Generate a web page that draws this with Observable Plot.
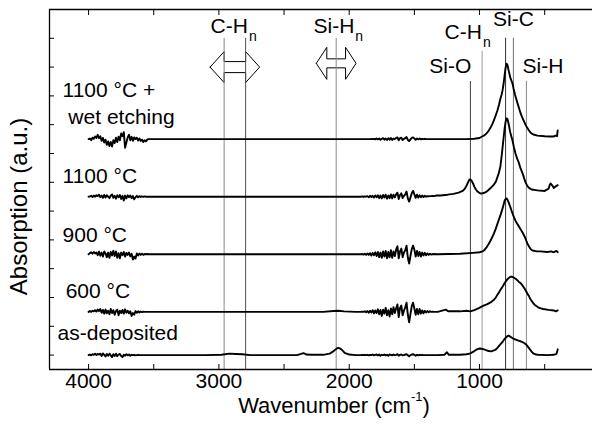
<!DOCTYPE html>
<html>
<head>
<meta charset="utf-8">
<script src="https://cdn.jsdelivr.net/npm/d3@7"></script>
<script src="https://cdn.jsdelivr.net/npm/@observablehq/plot@0.6"></script>
<style>
  html, body { margin: 0; padding: 0; background: #fff; }
  #chart { width: 592px; height: 426px; }
</style>
</head>
<body>
<div id="chart"></div>
<script>
// FTIR absorption spectra of SiC films after different treatments, stacked vertically.

// ---- series ----
const seriesNames = ["as-deposited", "600 °C", "900 °C", "1100 °C", "1100 °C +\n\u00A0wet etching"];
const seriesOffsets = [0, 1.5, 3.5, 5.5, 7.5];

// sampling of the two atmospheric water-vapour bands (cm-1)
const bandA = d3.range(3990, 3539, -10);   // 3990 … 3540
const bandB = d3.range(1910, 1329, -10);   // 1910 … 1330

// ---- as-deposited ----
const asDepKeys = [[4000,0.00],[3500,0.00],[3100,0.00],[2980,0.01],[2920,0.05],[2870,0.04],[2820,0.03],[2760,0.00],
  [2600,0.00],[2400,0.00],[2370,0.04],[2350,0.07],[2330,0.02],[2290,0.01],[2200,0.01],[2150,0.05],[2125,0.12],[2110,0.18],
  [2095,0.23],[2085,0.25],[2070,0.23],[2060,0.20],[2045,0.13],[2035,0.08],[2000,0.02],[1950,0.00],[1920,0.00],[1320,0.00],[1270,0.01],[1250,0.10],
  [1235,0.01],[1150,0.01],[1100,0.03],[1070,0.06],[1040,0.14],[1020,0.20],[1000,0.23],[985,0.22],[965,0.20],[930,0.14],[910,0.13],
  [880,0.18],[865,0.24],[850,0.32],[835,0.40],[820,0.48],[808,0.56],[795,0.62],[786,0.66],[778,0.68],[770,0.66],[760,0.63],[748,0.59],[735,0.56],[718,0.53],[700,0.50],[685,0.48],[670,0.45],[658,0.42],[645,0.38],
  [635,0.33],[625,0.27],[612,0.19],[600,0.12],[590,0.07],[580,0.04],[565,0.02],[550,0.01],[480,0.00],[430,0.01],[410,0.04],[403,0.14],[400,0.20]];
const asDepBandA = [0.02,-0.01,0.03,0.01,0.05,0.00,0.04,0.02,0.05,-0.03,
  0.06,0.01,-0.05,0.04,-0.02,0.05,-0.01,-0.07,0.03,-0.03,
  0.05,-0.04,0.02,0.04,-0.03,-0.07,0.01,-0.02,0.03,-0.01,
  0.02,-0.02,0.01,0.00,0.01,-0.01,0.00,0.01,0.00,0.00,
  0.00,0.00,0.00,0.00,0.00,0.00];
const asDepBandB = [0.00,0.01,0.00,0.01,0.00,0.01,-0.01,0.01,0.00,0.02,
  -0.01,0.01,0.02,-0.01,0.02,-0.02,0.01,0.00,0.02,-0.01,
  0.01,-0.02,0.02,0.01,-0.01,0.02,0.00,0.01,0.03,-0.02,
  0.01,0.02,-0.01,0.00,0.02,0.03,-0.01,-0.04,0.00,0.02,
  0.03,0.01,-0.02,0.01,-0.01,0.01,0.00,0.01,0.00,0.00,
  0.00,0.00,0.00,0.00,0.00,0.00,0.00,0.00,0.00];

// ---- 600 °C ----
const t600Keys = [[4000,0.00],[3500,0.00],[2200,0.00],[2120,0.03],[2080,0.04],[2040,0.02],[1950,0.00],[1920,0.00],
  [1320,0.00],[1260,0.08],[1240,0.02],[1150,0.02],[1100,0.04],[1070,0.02],[1040,0.06],[1005,0.13],[977,0.20],[940,0.27],
  [915,0.33],[890,0.42],[875,0.50],[862,0.60],[850,0.68],[840,0.76],[830,0.83],[820,0.90],[810,0.98],[800,1.05],[790,1.11],[780,1.16],[770,1.20],[762,1.22],[750,1.22],[740,1.20],[730,1.17],[720,1.14],
  [710,1.10],[700,1.05],[685,1.00],[672,0.93],[660,0.85],[645,0.74],[632,0.63],[620,0.54],[610,0.45],[598,0.37],[586,0.29],[570,0.22],[550,0.16],[530,0.12],[510,0.10],[470,0.07],[430,0.05],
  [415,0.02],[400,0.05]];
const t600BandA = [0.03,0.00,0.04,0.02,0.06,0.01,0.08,0.03,0.10,-0.03,
  0.07,-0.06,0.08,-0.05,0.04,-0.08,0.10,-0.04,0.06,-0.10,
  0.03,0.08,-0.12,0.04,-0.04,0.07,-0.06,0.09,-0.03,0.04,
  -0.05,0.02,-0.14,-0.04,-0.10,0.03,-0.03,0.02,-0.02,0.01,
  -0.01,0.01,0.00,0.00,0.00,0.00];
const t600BandB = [0.00,0.01,0.00,0.02,-0.01,0.03,-0.03,0.04,-0.02,0.06,
  -0.05,0.05,-0.04,0.09,-0.08,0.07,-0.14,0.08,-0.06,0.14,
  -0.12,0.06,-0.16,0.12,-0.08,0.16,-0.04,0.12,0.26,-0.18,
  0.14,0.22,-0.12,0.04,0.16,0.32,-0.10,-0.36,-0.08,0.20,
  0.32,0.12,-0.10,0.10,-0.08,0.10,-0.06,0.05,-0.05,0.04,
  -0.02,0.03,-0.01,0.02,0.00,0.01,0.00,0.00,0.00];

// ---- 900 °C ----
const t900Keys = [[4000,0.00],[3500,0.00],[1920,0.00],[1320,0.00],[1150,0.02],[1050,0.05],[1000,0.07],[977,0.10],[960,0.16],[945,0.25],
  [930,0.36],[915,0.48],[902,0.60],[890,0.72],[875,0.89],[862,1.07],[850,1.22],[840,1.35],[830,1.49],[823,1.60],[815,1.73],[808,1.85],[800,1.92],[793,1.94],[786,1.90],[778,1.82],[770,1.72],[762,1.62],[754,1.51],[745,1.40],
  [735,1.28],[724,1.17],[712,1.07],[700,0.98],[685,0.87],[670,0.76],[660,0.67],[650,0.58],[641,0.47],[632,0.37],[620,0.27],[610,0.20],[600,0.15],[593,0.13],[560,0.10],[532,0.10],[480,0.08],
  [450,0.10],[430,0.07],[410,0.12],[400,0.08]];
const t900BandA = [0.04,0.07,0.02,0.08,0.03,0.06,-0.03,0.09,-0.05,0.06,
  -0.08,0.10,0.03,-0.10,0.06,-0.12,0.08,-0.04,0.12,-0.06,
  0.10,-0.12,0.04,-0.14,0.06,-0.03,0.08,-0.08,0.05,-0.02,
  0.06,-0.07,0.02,-0.18,-0.08,-0.15,0.03,-0.04,0.03,-0.02,
  0.02,-0.02,0.01,0.00,0.01,0.00];
const t900BandB = [0.00,0.01,-0.01,0.02,-0.02,0.03,-0.02,0.04,-0.04,0.05,
  -0.03,0.07,-0.06,0.08,-0.10,0.06,-0.12,0.10,-0.08,0.12,
  -0.14,0.08,-0.10,0.14,-0.12,0.10,-0.06,0.16,0.28,-0.14,
  0.10,0.20,-0.10,0.06,0.14,0.30,-0.12,-0.32,-0.06,0.18,
  0.30,0.16,-0.08,0.12,-0.06,0.08,-0.08,0.06,-0.04,0.05,
  -0.03,0.03,-0.02,0.02,-0.01,0.01,0.00,0.01,0.00];

// ---- 1100 °C ----
const t1100Keys = [[4000,0.00],[3500,0.00],[1920,0.00],[1300,0.04],[1245,0.07],[1200,0.10],[1160,0.14],[1130,0.20],
  [1120,0.24],[1110,0.30],[1100,0.38],[1090,0.48],[1082,0.56],[1075,0.60],[1068,0.59],[1060,0.55],[1050,0.46],[1040,0.35],[1028,0.25],[1015,0.18],[1000,0.13],[990,0.11],[975,0.12],[955,0.15],
  [940,0.20],[915,0.30],[890,0.42],[875,0.52],[865,0.65],[852,0.82],[840,1.05],[828,1.50],[815,2.05],[807,2.38],[800,2.60],[793,2.72],[786,2.70],[780,2.60],[772,2.42],[765,2.25],
  [756,2.10],[747,1.95],[736,1.72],[724,1.50],[712,1.33],[700,1.20],[685,0.98],[675,0.87],[665,0.75],[656,0.62],[647,0.50],[636,0.40],[624,0.32],[612,0.28],[600,0.25],[555,0.22],[500,0.20],
  [470,0.28],[462,0.40],[455,0.46],[447,0.42],[440,0.38],[430,0.30],[415,0.36],[400,0.40]];
const t1100BandA = [0.01,0.03,-0.01,0.04,0.00,0.05,0.02,0.07,-0.02,0.04,
  -0.04,0.06,-0.03,0.05,0.00,-0.05,0.04,0.08,-0.04,0.03,
  -0.07,0.05,-0.02,0.06,-0.08,0.03,-0.13,0.04,-0.06,0.05,
  -0.02,0.04,-0.05,0.02,-0.09,-0.02,0.03,-0.02,0.02,-0.01,
  0.01,-0.01,0.01,0.00,0.00,0.00];
const t1100BandB = [0.00,0.01,-0.01,0.01,0.00,0.02,-0.02,0.03,-0.01,0.03,
  -0.03,0.04,-0.02,0.05,-0.05,0.04,-0.06,0.06,-0.03,0.07,
  -0.07,0.04,-0.05,0.08,-0.06,0.07,-0.02,0.08,0.14,-0.08,
  0.06,0.12,-0.05,0.03,0.08,0.18,-0.06,-0.17,-0.03,0.12,
  0.20,0.08,-0.04,0.07,-0.03,0.05,-0.02,0.04,-0.01,0.03,
  0.00,0.02,0.01,0.02,0.02,0.03,0.02,0.03,0.04];

// ---- 1100 °C + wet etching ----
const wetKeys = [[4000,0.00],[3500,0.00],[1920,0.00],[1320,0.00],[1100,0.00],[1040,0.01],[1000,0.04],[977,0.10],
  [960,0.14],[946,0.20],[930,0.29],[915,0.40],[902,0.52],[890,0.65],[876,0.82],[862,1.00],[850,1.20],[840,1.40],[830,1.55],[823,1.70],[815,1.93],[808,2.20],[800,2.48],[793,2.62],[786,2.58],[780,2.45],[772,2.30],[765,2.15],
  [756,2.04],[747,1.93],[738,1.74],[728,1.55],[718,1.39],[708,1.24],[696,1.06],[685,0.90],[674,0.77],[662,0.65],[648,0.51],[635,0.40],[622,0.31],[609,0.23],[595,0.18],[580,0.15],[555,0.12],[500,0.10],
  [460,0.09],[432,0.09],[415,0.12],[405,0.10],[400,0.30]];
const wetBandA = [0.02,-0.04,0.05,0.01,0.09,0.04,0.15,0.03,0.10,-0.06,
  0.04,-0.12,-0.02,-0.20,-0.08,-0.24,-0.10,-0.26,-0.04,-0.14,
  0.05,-0.10,0.08,-0.04,0.20,0.10,0.24,-0.30,-0.12,0.06,
  0.15,-0.04,0.08,-0.06,0.06,0.00,0.05,-0.05,0.02,-0.06,
  -0.02,-0.10,-0.04,-0.08,-0.02,0.00];
const wetBandB = [0.00,0.00,0.00,0.00,0.00,0.00,0.00,0.00,0.01,0.00,
  0.01,-0.01,0.02,-0.01,0.02,-0.02,0.01,0.03,-0.02,0.02,
  -0.03,0.03,-0.02,0.04,-0.03,0.02,0.00,0.04,0.06,-0.04,
  0.03,0.05,-0.03,0.01,0.03,0.07,-0.03,-0.07,-0.01,0.04,
  0.06,0.02,-0.02,0.02,-0.01,0.02,-0.01,0.01,0.00,0.01,
  0.00,0.00,0.00,0.00,0.00,0.00,0.00,0.00,0.00];

// ---- band assignments ----
const assignWn   = [2960, 2795, 2100, 1070, 980, 800, 740, 640];
const assignText = ["C-H_n", "Si-H_n", "Si-O", "C-H_n", "Si-C", "Si-H"];

// ---- axis ticks ----
const xTickLabels = [4000, 3000, 2000, 1000];
const xTicks = [4000, 3500, 3000, 2500, 2000, 1500, 1000, 500];
const yTicks = [0, 1, 2, 3, 4, 5, 6, 7, 8, 9, 10, 11];

// ---- layout ----
const W = 592, H = 426, mL = 49, mR = 0, mT = 9, mB = 57;
const xDomain = [4300, 133], yDomain = [-0.5, 12];
const kx = (xDomain[0] - xDomain[1]) / (W - mL - mR);   // cm-1 per pixel
const ky = (yDomain[1] - yDomain[0]) / (H - mT - mB);   // units per pixel

const lineTop   = [11, 11, 11, 9.5, 10.55, 11, 11, 9.5];
const lineShade = ["#8a8a8a", "#505050", "#8a8a8a", "#404040", "#9a9a9a", "#303030", "#707070", "#8a8a8a"];

const labelPos = [
  {x: 3064, y: 11.2,  anchor: "start"},
  {x: 2274, y: 11.17, anchor: "start"},
  {x: 1063, y: 9.78,  anchor: "end"},
  {x: 1268, y: 10.99, anchor: "start"},
  {x: 740,  y: 11.44, anchor: "middle"},
  {x: 670,  y: 9.78,  anchor: "start"}
];
const seriesLabelPos = [
  {x: 4238, y: 0.51}, {x: 4176, y: 2.0}, {x: 4200, y: 3.91}, {x: 4200, y: 5.96}, {x: 4200, y: 8.04}
];

// double-headed outline arrows spanning the C-Hn and Si-Hn stretching regions
const arrowSpec = [
  {left: 2960, right: 2795, y: 10.0,  head: 14,   half: 15.5, shaft: 5.5},
  {left: 2172, right: 2028, y: 10.13, head: 10.5, half: 16,   shaft: 4.5}
];

// ---- build rows ----
function spectrum(keys, a, b) {
  const pts = keys.map(([wn, v]) => ({wn, v}));
  bandA.forEach((wn, i) => pts.push({wn, v: a[i]}));
  bandB.forEach((wn, i) => pts.push({wn, v: b[i]}));
  return pts.sort((p, q) => q.wn - p.wn);
}
const spectra = [
  spectrum(asDepKeys, asDepBandA, asDepBandB),
  spectrum(t600Keys, t600BandA, t600BandB),
  spectrum(t900Keys, t900BandA, t900BandB),
  spectrum(t1100Keys, t1100BandA, t1100BandB),
  spectrum(wetKeys, wetBandA, wetBandB)
];
const rows = spectra.flatMap((pts, i) =>
  pts.map(p => ({name: seriesNames[i], wn: p.wn, y: p.v + seriesOffsets[i]})));

const lines = assignWn.map((wn, i) => ({wn, top: lineTop[i], shade: lineShade[i]}));
const labels = assignText.map((t, i) => ({text: t, ...labelPos[i]}));
const seriesLabels = seriesNames.map((t, i) => ({text: t, ...seriesLabelPos[i]}));

const arrowPts = arrowSpec.flatMap((a, id) => {
  const L = a.left, R = a.right, y = a.y;
  const hx = a.head * kx, hh = a.half * ky, sh = a.shaft * ky;
  return [
    [L + hx, y], [L, y + hh], [L, y + sh], [R, y + sh], [R, y + hh], [R - hx, y],
    [R, y - hh], [R, y - sh], [L, y - sh], [L, y - hh], [L + hx, y]
  ].map(([x, yy]) => ({id, x, y: yy}));
});

const font = "'Liberation Sans', Arial, Helvetica, sans-serif";
const labelMark = anchor => Plot.text(labels.filter(d => d.anchor === anchor),
  {x: "x", y: "y", text: "text", textAnchor: anchor, lineAnchor: "bottom", fontSize: 21, fill: "black"});

const chart = Plot.plot({
  width: W, height: H,
  marginLeft: mL, marginRight: mR, marginTop: mT, marginBottom: mB,
  style: {fontFamily: font, background: "#fff", color: "#000"},
  x: {domain: xDomain},
  y: {domain: yDomain},
  color: {type: "identity"},
  marks: [
    Plot.line(arrowPts, {x: "x", y: "y", z: "id", fill: "white", stroke: "black", strokeWidth: 1}),
    Plot.ruleX(lines, {x: "wn", y1: yDomain[0], y2: "top", stroke: "shade", strokeWidth: 1}),
    Plot.line(rows, {x: "wn", y: "y", z: "name", stroke: "black", strokeWidth: 1.9, strokeLinejoin: "round"}),
    labelMark("start"), labelMark("middle"), labelMark("end"),
    Plot.text(seriesLabels, {x: "x", y: "y", text: "text", textAnchor: "start", lineAnchor: "bottom", lineHeight: 1.25, fontSize: 21, fill: "black"}),
    // frame (left, top, bottom)
    Plot.ruleY([yDomain[0], yDomain[1]], {stroke: "black", strokeWidth: 1.3}),
    Plot.ruleX([xDomain[0]], {y1: yDomain[0], y2: yDomain[1], stroke: "black", strokeWidth: 1.3}),
    // axes
    Plot.axisX(xTicks, {anchor: "bottom", tickSize: -5, tickFormat: () => "", label: null}),
    Plot.axisX(xTicks, {anchor: "top", tickSize: -5, tickFormat: () => "", label: null}),
    Plot.axisX(xTickLabels, {anchor: "bottom", tickSize: 0, tickPadding: 4, tickFormat: "d", fontSize: 21, label: null}),
    Plot.axisY(yTicks, {anchor: "left", tickSize: -5, tickFormat: () => "", label: null}),
    Plot.text(["Wavenumber (cm^-1)"], {text: d => d, frameAnchor: "bottom", textAnchor: "middle", dx: 13, dy: 43, lineAnchor: "bottom", fontSize: 22, fill: "black"}),
    Plot.text(["Absorption (a.u.)"], {text: d => d, frameAnchor: "left", textAnchor: "middle", rotate: -90, dx: -23, dy: 17, lineAnchor: "bottom", fontSize: 24, fill: "black"})
  ]
});

// sub- and superscripts: "C-H_n" → C-Hₙ, "(cm^-1)" → (cm⁻¹)
d3.select(chart).selectAll("text").each(function () {
  const s = this.textContent;
  const m = s.match(/^(.*?)([_^])([^)\s]+)(.*)$/);
  if (!m) return;
  const [, base, mode, script, rest] = m;
  const sub = mode === "_";
  const t = d3.select(this).text(null);
  t.append("tspan").text(base);
  t.append("tspan").attr("font-size", sub ? 14 : 13).attr("dy", sub ? 8 : -12).attr("dx", sub ? 1 : 0).text(script);
  if (rest) t.append("tspan").attr("dy", sub ? -8 : 12).text(rest);
});

document.getElementById("chart").appendChild(chart);
</script>
</body>
</html>
